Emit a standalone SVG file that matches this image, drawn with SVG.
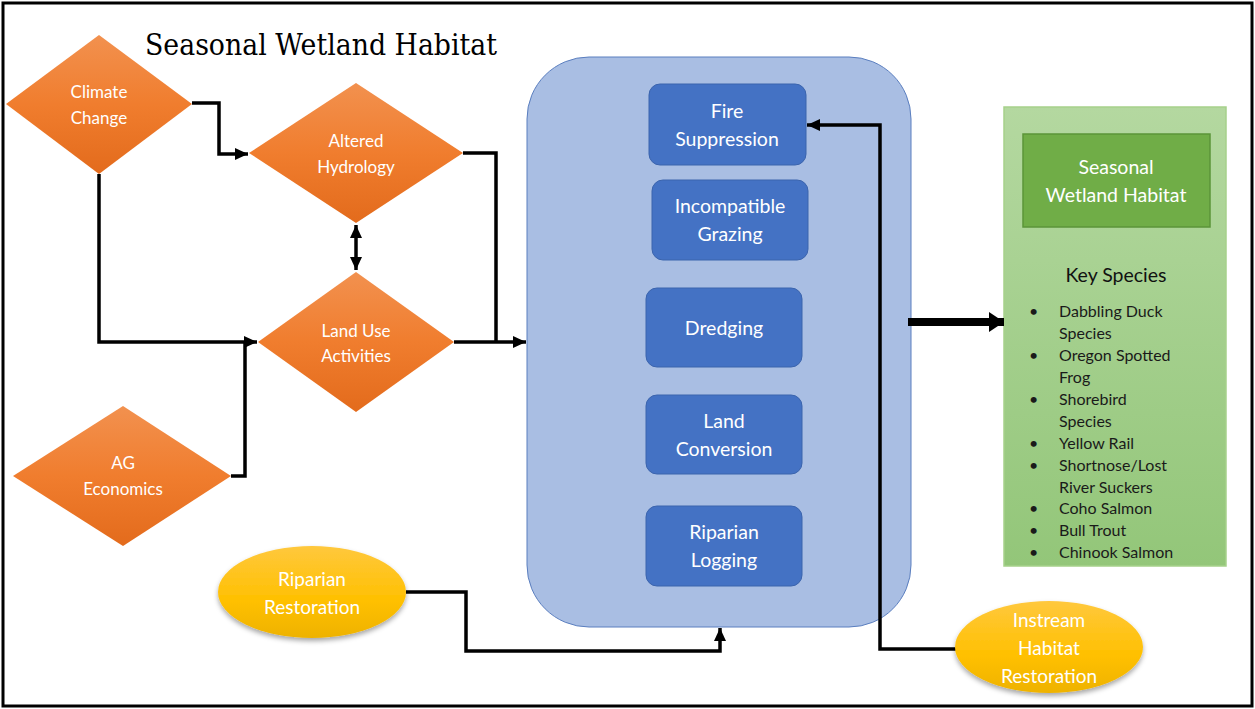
<svg xmlns="http://www.w3.org/2000/svg" width="1255" height="709" viewBox="0 0 1255 709">
<style>
.dia{stroke:none}
.lbl{font-family:Lato,"Liberation Sans",sans-serif;fill:#ffffff;text-anchor:middle}
.dl{font-size:17px}
.bl{font-size:19.5px}
.el{font-size:19px}
.conn{fill:none;stroke:#000;stroke-width:3.5;stroke-linejoin:miter}
.inner{fill:#4472c4;stroke:#3b64ad;stroke-width:1}
.sp{font-family:Lato,"Liberation Sans",sans-serif;font-size:16px;fill:#1a1a1a}
</style>
<defs>
<linearGradient id="og" x1="0" y1="0" x2="0" y2="1">
<stop offset="0" stop-color="#f2914f"/>
<stop offset="0.5" stop-color="#f07d2e"/>
<stop offset="1" stop-color="#e36b1c"/>
</linearGradient>
<linearGradient id="yg" x1="0" y1="0" x2="0" y2="1">
<stop offset="0" stop-color="#ffc83d"/>
<stop offset="0.6" stop-color="#ffc000"/>
<stop offset="1" stop-color="#eeb200"/>
</linearGradient>
<linearGradient id="gg" x1="0" y1="0" x2="0" y2="1">
<stop offset="0" stop-color="#b4d8a0"/>
<stop offset="1" stop-color="#93c679"/>
</linearGradient>
<filter id="sh" x="-20%" y="-20%" width="140%" height="150%">
<feDropShadow dx="0" dy="3" stdDeviation="2.5" flood-color="#000" flood-opacity="0.35"/>
</filter>
<marker id="ah" markerUnits="userSpaceOnUse" markerWidth="14" markerHeight="12" refX="13" refY="6" orient="auto-start-reverse">
<path d="M0,0 L13,6 L0,12 Z" fill="#000"/>
</marker>
<marker id="ahb" markerUnits="userSpaceOnUse" markerWidth="16" markerHeight="20" refX="15" refY="10" orient="auto">
<path d="M0,0 L15,10 L0,20 Z" fill="#000"/>
</marker>
</defs>
<rect x="0" y="0" width="1255" height="709" fill="#ffffff"/>
<rect x="3" y="3" width="1249" height="703" fill="#ffffff" stroke="#000" stroke-width="3"/>

<text x="145" y="55" font-family="'DejaVu Serif','Liberation Serif',serif" font-size="29" fill="#000" textLength="352" lengthAdjust="spacingAndGlyphs">Seasonal Wetland Habitat</text>

<g id="climate-change">
<polygon class="dia" points="99,35 192,104 99,174 6,104" fill="url(#og)"/>
<text class="lbl dl" x="99" y="98">Climate</text>
<text class="lbl dl" x="99" y="124">Change</text>
</g>
<g id="altered-hydrology">
<polygon class="dia" points="356,83 463,153 356,223 249,153" fill="url(#og)"/>
<text class="lbl dl" x="356" y="147">Altered</text>
<text class="lbl dl" x="356" y="173">Hydrology</text>
</g>
<g id="land-use">
<polygon class="dia" points="356,272 454,342 356,412 258,342" fill="url(#og)"/>
<text class="lbl dl" x="356" y="337">Land Use</text>
<text class="lbl dl" x="356" y="362">Activities</text>
</g>
<g id="ag-economics">
<polygon class="dia" points="123,406 231,476 123,546 13,476" fill="url(#og)"/>
<text class="lbl dl" x="123" y="469">AG</text>
<text class="lbl dl" x="123" y="495">Economics</text>
</g>

<g id="stressors">
<rect x="527" y="57" width="384" height="570" rx="62" ry="62" fill="#a9bee3" stroke="#5a7ebf" stroke-width="1"/>
</g>
<g id="fire-suppression">
<rect class="inner" x="649" y="84" width="157" height="81" rx="11"/>
<text class="lbl bl" x="727" y="118">Fire</text>
<text class="lbl bl" x="727" y="146">Suppression</text>
</g>
<g id="incompatible-grazing">
<rect class="inner" x="652" y="180" width="156" height="80" rx="11"/>
<text class="lbl bl" x="730" y="213">Incompatible</text>
<text class="lbl bl" x="730" y="241">Grazing</text>
</g>
<g id="dredging">
<rect class="inner" x="646" y="288" width="156" height="79" rx="11"/>
<text class="lbl bl" x="724" y="335">Dredging</text>
</g>
<g id="land-conversion">
<rect class="inner" x="646" y="395" width="156" height="79" rx="11"/>
<text class="lbl bl" x="724" y="428">Land</text>
<text class="lbl bl" x="724" y="456">Conversion</text>
</g>
<g id="riparian-logging">
<rect class="inner" x="646" y="506" width="156" height="80" rx="11"/>
<text class="lbl bl" x="724" y="539">Riparian</text>
<text class="lbl bl" x="724" y="567">Logging</text>
</g>

<g id="riparian-restoration">
<ellipse cx="312" cy="592" rx="94" ry="46" fill="url(#yg)" filter="url(#sh)"/>
<text class="lbl el" x="312" y="586">Riparian</text>
<text class="lbl el" x="312" y="614">Restoration</text>
</g>

<g id="habitat-panel">
<rect x="1004" y="107" width="222" height="459" fill="url(#gg)" stroke="#a6d18b" stroke-width="1.5"/>
<rect x="1023" y="134" width="187" height="93" fill="#70ad47" stroke="#5b9539" stroke-width="1.5"/>
<text class="lbl" font-size="19.5" x="1116" y="174">Seasonal</text>
<text class="lbl" font-size="19.5" x="1116" y="202">Wetland Habitat</text>
<text x="1116" y="282" font-family="Lato,'Liberation Sans',sans-serif" font-size="19.5" fill="#111" text-anchor="middle">Key Species</text>
<g class="sp">
<text x="1029" y="317">•</text><text x="1059" y="317">Dabbling Duck</text>
<text x="1059" y="339">Species</text>
<text x="1029" y="361">•</text><text x="1059" y="361">Oregon Spotted</text>
<text x="1059" y="383">Frog</text>
<text x="1029" y="405">•</text><text x="1059" y="405">Shorebird</text>
<text x="1059" y="427">Species</text>
<text x="1029" y="449">•</text><text x="1059" y="449">Yellow Rail</text>
<text x="1029" y="471">•</text><text x="1059" y="471">Shortnose/Lost</text>
<text x="1059" y="493">River Suckers</text>
<text x="1029" y="514">•</text><text x="1059" y="514">Coho Salmon</text>
<text x="1029" y="536">•</text><text x="1059" y="536">Bull Trout</text>
<text x="1029" y="558">•</text><text x="1059" y="558">Chinook Salmon</text>
</g>
</g>

<g id="connectors">
<path class="conn" d="M192,103 H219 V154 H248" marker-end="url(#ah)"/>
<path class="conn" d="M99,174 V342 H257" marker-end="url(#ah)"/>
<path class="conn" d="M231,476 H245 V342"/>
<path class="conn" d="M356,225 V270" marker-start="url(#ah)" marker-end="url(#ah)"/>
<path class="conn" d="M463,153 H496 V342"/>
<path class="conn" d="M454,342 H526" marker-end="url(#ah)"/>
<path fill="none" stroke="#000" stroke-width="8" d="M908,322 H1004" marker-end="url(#ahb)"/>
<path class="conn" d="M406,592 H466 V651 H720 V628" marker-end="url(#ah)"/>
<path class="conn" d="M956,649 H880 V125 H807" marker-end="url(#ah)"/>
</g>

<g id="instream-restoration">
<ellipse cx="1049" cy="647" rx="94" ry="46" fill="url(#yg)" filter="url(#sh)"/>
<text class="lbl el" x="1049" y="627">Instream</text>
<text class="lbl el" x="1049" y="655">Habitat</text>
<text class="lbl el" x="1049" y="683">Restoration</text>
</g>
</svg>
